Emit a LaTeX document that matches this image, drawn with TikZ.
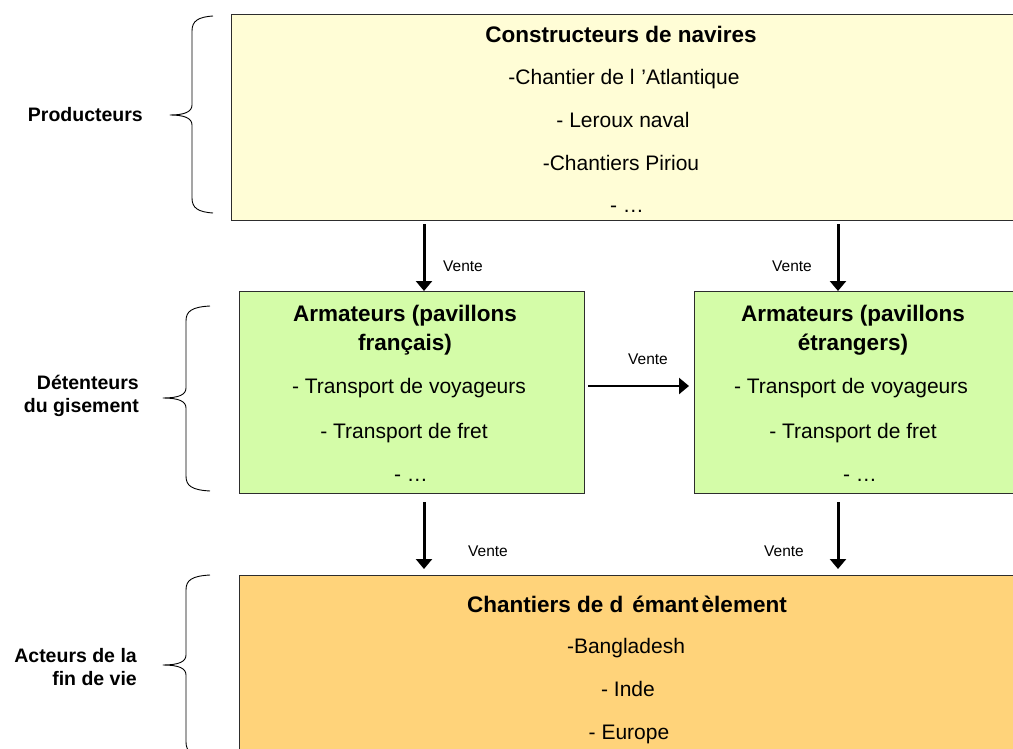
\documentclass[tikz,border=0pt]{standalone}
\usepackage{fontspec}
\setmainfont{Liberation Sans}
\usetikzlibrary{arrows.meta,calc}
\definecolor{prodfill}{RGB}{255,253,214}
\definecolor{holdfill}{RGB}{212,252,168}
\definecolor{endfill}{RGB}{255,211,122}
\definecolor{boxline}{RGB}{45,45,45}

% curly brace drawn as a path: end x, spine x, tip x, top y, tip y, bottom y
\newcommand\sidebrace[6]{%
  \draw[bracestroke] (#1,#4) .. controls (#2+6,#4+1) and (#2,#4+5) .. (#2,#4+15)
    -- (#2,#5-10) .. controls (#2,#5-3) and (#2-8,#5) .. (#3,#5)
    .. controls (#2-8,#5) and (#2,#5+3) .. (#2,#5+10)
    -- (#2,#6-15) .. controls (#2,#6-5) and (#2+6,#6-1) .. (#1,#6);}

\begin{document}
\begin{tikzpicture}[x=1pt,y=-1pt,
  box/.style={draw=boxline, line width=1.4pt, rectangle, inner sep=0pt, anchor=north west},
  body/.style={font=\fontsize{21}{25}\selectfont, inner sep=0pt, anchor=mid},
  head/.style={font=\bfseries\fontsize{22.5}{29}\selectfont, inner sep=0pt, align=center},
  side/.style={font=\bfseries\fontsize{19.5}{23}\selectfont, align=right, anchor=east, inner sep=0pt},
  sale/.style={font=\fontsize{15.5}{18}\selectfont, inner sep=0pt},
  flow/.style={line width=3pt, -{Triangle[width=16pt,length=10pt]}},
  bracestroke/.style={line width=0.9pt, line join=round}]

\path[use as bounding box] (0,0) rectangle (1013,749);
\clip (0,0) rectangle (1013,749);

% boxes
\node[box, fill=prodfill, minimum width=800pt, minimum height=206pt] (prod) at (231,14) {};
\node[box, fill=holdfill, minimum width=345pt, minimum height=202pt] (armfr) at (239,291) {};
\node[box, fill=holdfill, minimum width=330pt, minimum height=202pt] (armet) at (694,291) {};
\node[box, fill=endfill, minimum width=790pt, minimum height=200pt] (demo) at (239,575) {};

% producers
\node[head] (prodT) at (621,34) {Constructeurs de navires};
\node[body] (prod1) at (624,82) {-Chantier de l\hspace{7pt}’Atlantique};
\node[body] (prod2) at (623,125) {- Leroux naval};
\node[body] (prod3) at (621,168) {-Chantiers Piriou};
\node[body] (prod4) at (627,210) {- …};

% French flag owners
\node[head] (frT) at (405,330) {Armateurs (pavillons\\français)};
\node[body] (fr1) at (409,391) {- Transport de voyageurs};
\node[body] (fr2) at (404,436) {- Transport de fret};
\node[body] (fr3) at (411,479) {- …};

% foreign flag owners
\node[head] (etT) at (853,330) {Armateurs (pavillons\\étrangers)};
\node[body] (et1) at (851,391) {- Transport de voyageurs};
\node[body] (et2) at (853,436) {- Transport de fret};
\node[body] (et3) at (860,479) {- …};

% dismantling yards
\node[head] (demT) at (627,604) {Chantiers de d\hspace{9pt}émant\hspace{3pt}èlement};
\node[body] (dem1) at (626,651) {-Bangladesh};
\node[body] (dem2) at (628,694) {- Inde};
\node[body] (dem3) at (629,737) {- Europe};

% side labels
\node[side] (lprod) at (143,115) {Producteurs};
\node[side] (lhold) at (139,396) {Détenteurs\\du gisement};
\node[side] (lend) at (137,667) {Acteurs de la\\fin de vie};

% braces
\sidebrace{213}{192}{170}{16}{115}{213}
\sidebrace{210}{186}{163}{306}{398}{491}
\sidebrace{210}{186}{163}{575}{665}{757}

% sale flows
\coordinate (xl) at (424,0);
\coordinate (xr) at (838,0);
\coordinate (ym) at (0,386);
\draw[flow] ($(prod.south -| xl)+(0,3)$) -- (armfr.north -| xl);
\draw[flow] ($(prod.south -| xr)+(0,3)$) -- (armet.north -| xr);
\draw[flow, line width=2.5pt] ($(armfr.east |- ym)+(3,0)$) -- ($(armet.west |- ym)+(-5,0)$);
\draw[flow] ($(armfr.south -| xl)+(0,8)$) -- ($(demo.north -| xl)+(0,-6)$);
\draw[flow] ($(armet.south -| xr)+(0,8)$) -- ($(demo.north -| xr)+(0,-6)$);

\node[sale] (v1) at (463,266) {Vente};
\node[sale] (v2) at (792,266) {Vente};
\node[sale] (v3) at (648,359) {Vente};
\node[sale] (v4) at (488,551) {Vente};
\node[sale] (v5) at (784,551) {Vente};
\end{tikzpicture}
\end{document}
